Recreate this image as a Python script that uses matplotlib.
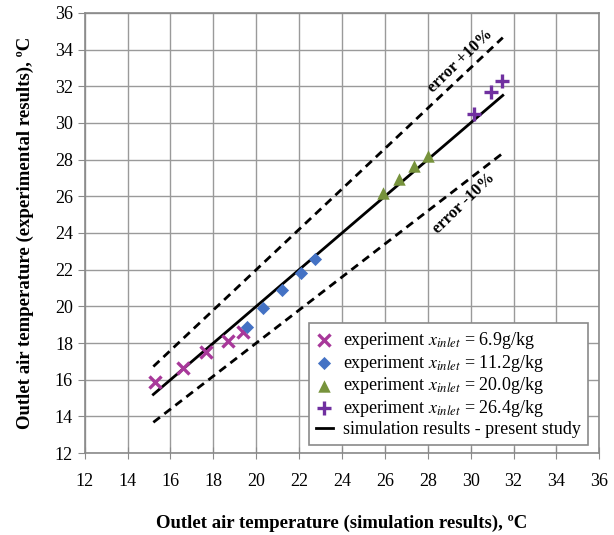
import matplotlib
matplotlib.use('Agg')
import matplotlib.pyplot as plt

plt.rcParams['font.family'] = ['Liberation Serif', 'DejaVu Serif']
plt.rcParams['mathtext.fontset'] = 'stix'

# measured points, simulation (x) vs experiment (y)
sim_69 = [15.27, 16.58, 17.65, 18.68, 19.38]
exp_69 = [15.87, 16.64, 17.51, 18.11, 18.60]
sim_112 = [19.56, 20.31, 21.20, 22.08, 22.74]
exp_112 = [18.87, 19.91, 20.89, 21.82, 22.58]
sim_200 = [25.91, 26.66, 27.36, 28.01]
exp_200 = [26.18, 26.95, 27.66, 28.20]
sim_264 = [30.16, 30.95, 31.47]
exp_264 = [30.49, 31.69, 32.29]

line_x = [15.2, 31.5]
err_up = [1.1 * v for v in line_x]
err_dn = [0.9 * v for v in line_x]

ticks = list(range(12, 37, 2))

fig = plt.figure(figsize=(6.14, 5.35), dpi=100)
ax = fig.add_axes([0.138, 0.153, 0.838, 0.823])

ax.plot(line_x, err_up, color='black', lw=2, ls=(0, (3, 2)), zorder=3)
ax.plot(line_x, err_dn, color='black', lw=2, ls=(0, (3, 2)), zorder=3)

ax.scatter(sim_69, exp_69, marker='x', s=75, color='#A8389A', linewidths=2.4,
           zorder=4, label='experiment $x_{inlet}$ = 6.9g/kg')
ax.scatter(sim_112, exp_112, marker='D', s=45, color='#4472C4', linewidths=0,
           zorder=4, label='experiment $x_{inlet}$ = 11.2g/kg')
ax.scatter(sim_200, exp_200, marker='^', s=80, color='#77933C', linewidths=0,
           zorder=4, label='experiment $x_{inlet}$ = 20.0g/kg')
ax.scatter(sim_264, exp_264, marker='+', s=100, color='#7030A0', linewidths=2.4,
           zorder=4, label='experiment $x_{inlet}$ = 26.4g/kg')
ax.plot(line_x, line_x, color='black', lw=2, zorder=3,
        label='simulation results - present study')

ax.set_xlim(12, 36)
ax.set_ylim(12, 36)
ax.set_xticks(ticks)
ax.set_yticks(ticks)
ax.grid(True, color='#9a9a9a', lw=1)
ax.set_axisbelow(True)
for s in ax.spines.values():
    s.set_color('#8a8a8a')
    s.set_linewidth(1.2)
ax.tick_params(axis='x', direction='inout', length=8, color='#8a8a8a', labelsize=13, pad=10)
ax.tick_params(axis='y', direction='out', length=5, color='#8a8a8a', labelsize=13)

ax.set_xlabel('Outlet air temperature (simulation results), ºC', fontsize=13.5,
              fontweight='bold', labelpad=18)
ax.set_ylabel('Outlet air temperature (experimental results), ºC', fontsize=13.5,
              fontweight='bold', labelpad=15)

ax.text(29.5, 33.4, 'error +10%', rotation=44, fontsize=12, fontweight='bold',
        ha='center', va='center')
ax.text(29.7, 25.6, 'error -10%', rotation=44, fontsize=12, fontweight='bold',
        ha='center', va='center')

leg = ax.legend(loc='lower right', bbox_to_anchor=(0.979, 0.018), borderaxespad=0,
                fontsize=13, frameon=True, fancybox=False, framealpha=1,
                edgecolor='#8a8a8a', handlelength=0.9, handletextpad=0.6,
                borderpad=0.4, labelspacing=0.1)
leg.get_frame().set_linewidth(1.2)

fig.savefig('out.png', dpi=100)
